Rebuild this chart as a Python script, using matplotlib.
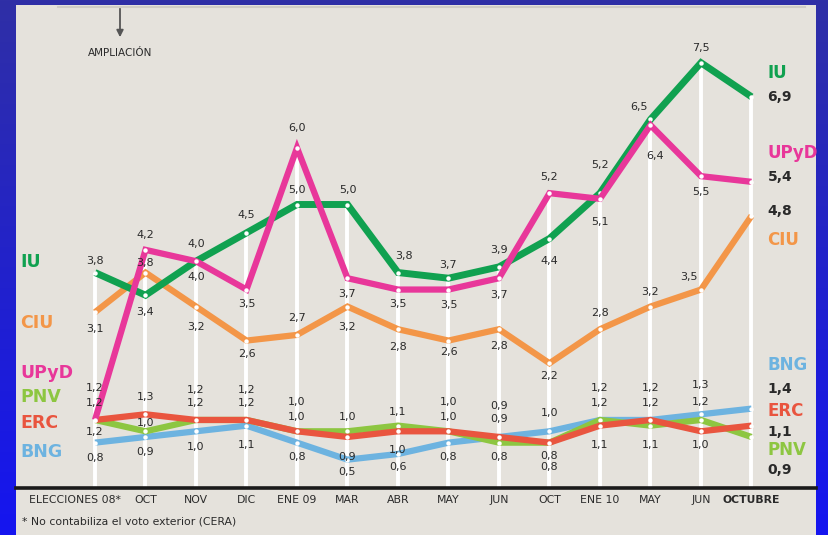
import numpy as np
import matplotlib
matplotlib.use("Agg")
import matplotlib.pyplot as plt
from matplotlib.patches import Rectangle, FancyArrowPatch
from matplotlib.lines import Line2D
from matplotlib.transforms import ScaledTranslation
from matplotlib.colors import LinearSegmentedColormap

# ---------------- data ----------------
categories = ["ELECCIONES 08*", "OCT", "NOV", "DIC", "ENE 09", "MAR", "ABR",
              "MAY", "JUN", "OCT", "ENE 10", "MAY", "JUN", "OCTUBRE"]
iu   = [3.8, 3.4, 4.0, 4.5, 5.0, 5.0, 3.8, 3.7, 3.9, 4.4, 5.2, 6.5, 7.5, 6.9]
upyd = [1.2, 4.2, 4.0, 3.5, 6.0, 3.7, 3.5, 3.5, 3.7, 5.2, 5.1, 6.4, 5.5, 5.4]
ciu  = [3.1, 3.8, 3.2, 2.6, 2.7, 3.2, 2.8, 2.6, 2.8, 2.2, 2.8, 3.2, 3.5, 4.8]
bng  = [0.8, 0.9, 1.0, 1.1, 0.8, 0.5, 0.6, 0.8, 0.9, 1.0, 1.2, 1.2, 1.3, 1.4]
erc  = [1.2, 1.3, 1.2, 1.2, 1.0, 0.9, 1.0, 1.0, 0.9, 0.8, 1.1, 1.2, 1.0, 1.1]
pnv  = [1.2, 1.0, 1.2, 1.2, 1.0, 1.0, 1.1, 1.0, 0.8, 0.8, 1.2, 1.1, 1.2, 0.9]

# label placement (pixels up from point; None = no label)
iu_dy   = [12, -17, 17, 18, 14, 14, 17, 13, 17, -22, 28, 12, 15, None]
upyd_dy = [32, 15, -16, -14, 20, -16, -14, -15, -17, 16, -23, -31, -16, None]
ciu_dy  = [-17, 10, -20, -13, 17, -20, -18, -11, -17, -13, 16, 15, 13, None]
bng_dy  = [-15, -15, -16, -19, -14, -12, -13, -14, 18, 18, 32, 17, 29, None]
erc_dy  = [-12, 17, 30, 30, 29, -20, -19, 29, 31, -13, -19, 32, -14, None]
pnv_dy  = [17, 8, 17, 17, 14, 14, 14, 14, -14, -24, 17, -19, 18, None]
iu_dx   = [0, 0, 0, 0, 0, 0, 6, 0, 0, 0, 0, -11, 0, 0]
upyd_dx = [0, 0, 0, 0, 0, 0, 0, 0, 0, 0, 0, 5, 0, 0]
ciu_dx  = [0, 0, 0, 0, 0, 0, 0, 0, 0, 0, 0, 0, -12, 0]
zero_dx = [0] * 14

C_IU, C_UPYD, C_CIU = "#10a150", "#e8379a", "#f39648"
C_BNG, C_ERC, C_PNV = "#6db3e0", "#e9553f", "#8dc641"
PANEL = "#e5e2dc"
TXT = "#2a2a2a"

series = [
    # name, values, color, lw, zorder, dy, dx, left_label_ypix, right name dy, right value dy
    ("BNG", bng, C_BNG, 4.5, 3, bng_dy, zero_dx, 452, 44, 20),
    ("PNV", pnv, C_PNV, 4.5, 4, pnv_dy, zero_dx, 397, -13, -33),
    ("ERC", erc, C_ERC, 4.5, 5, erc_dy, zero_dx, 423, 15, -6),
    ("CIU", ciu, C_CIU, 4.5, 6, ciu_dy, ciu_dx, 323, -24, 5),
    ("IU", iu, C_IU, 5.0, 7, iu_dy, iu_dx, 262, 24, 0),
    ("UPyD", upyd, C_UPYD, 4.5, 8, upyd_dy, upyd_dx, 373, 29, 5),
]

W, H = 829, 535
fig = plt.figure(figsize=(W / 100, H / 100), dpi=100)

# gradient blue background
bg = fig.add_axes([0, 0, 1, 1], zorder=-10)
grad = np.linspace(0, 1, 256).reshape(-1, 1)
cmap = LinearSegmentedColormap.from_list("bg", ["#2f2fa6", "#1515f0"])
bg.imshow(grad, aspect="auto", cmap=cmap, extent=[0, 1, 0, 1], origin="upper")
bg.set_axis_off()

# light panel
fig.patches.append(Rectangle((16 / W, 0), 800 / W, 530 / H, transform=fig.transFigure,
                             facecolor=PANEL, edgecolor="none", zorder=-5))
fig.lines.append(Line2D([58 / W, 805 / W], [1 - 7 / H, 1 - 7 / H], transform=fig.transFigure,
                        color="#cfccc6", lw=1.5, zorder=-4))

x0, dxp = 95.0, 50.5
ypu = 56.7
ax_left, ax_right = 16, 816
ax_bottom_pix, ax_top_pix = 488, 5
ax = fig.add_axes([ax_left / W, (H - ax_bottom_pix) / H, (ax_right - ax_left) / W,
                   (ax_bottom_pix - ax_top_pix) / H], zorder=0)
ax.set_facecolor("none")
ax.set_xlim((ax_left - x0) / dxp, (ax_right - x0) / dxp)
ax.set_ylim(0, (ax_bottom_pix - ax_top_pix) / ypu)
for s in ["top", "right", "left"]:
    ax.spines[s].set_visible(False)
ax.spines["bottom"].set_linewidth(2.6)
ax.spines["bottom"].set_color("#1a1a1a")
ax.set_yticks([])

x = np.arange(len(categories))
ax.set_xticks(x)
ax.set_xticklabels(categories, fontsize=7.8, color=TXT)
ax.tick_params(axis="x", length=0, pad=5)
for i, lab in enumerate(ax.get_xticklabels()):
    if i == len(categories) - 1:
        lab.set_fontweight("bold")
    if i == 0:
        lab.set_transform(lab.get_transform() + ScaledTranslation(-0.2, 0, fig.dpi_scale_trans))

# white vertical guide lines
allv = np.array([s[1] for s in series])
ax.vlines(x, 0, allv.max(axis=0), color="white", lw=2.8, zorder=1)

def fmt(v):
    return f"{v:.1f}".replace(".", ",")

for name, vals, col, lw, z, dy, dxl, lyp, rn, rv in series:
    ax.plot(x, vals, color=col, lw=lw, zorder=z, solid_joinstyle="miter",
            solid_capstyle="butt", marker="o", markersize=3.2,
            markerfacecolor="white", markeredgecolor="white", markeredgewidth=0)
    for i, v in enumerate(vals):
        if dy[i] is None:
            continue
        ax.annotate(fmt(v), (x[i], v), xytext=(dxl[i], dy[i]), textcoords="offset pixels",
                    ha="center", va="center", fontsize=8, color=TXT, zorder=20)
    # left name
    fig.text(20 / W, 1 - lyp / H, name, color=col, fontsize=12.5, fontweight="bold",
             ha="left", va="center")
    # right name and value
    ax.annotate(name, (x[-1], vals[-1]), xytext=(16, rn), textcoords="offset pixels",
                ha="left", va="center", fontsize=12, fontweight="bold", color=col, zorder=20)
    ax.annotate(fmt(vals[-1]), (x[-1], vals[-1]), xytext=(16, rv), textcoords="offset pixels",
                ha="left", va="center", fontsize=10, fontweight="bold", color=TXT, zorder=20)

# AMPLIACION arrow
fig.patches.append(FancyArrowPatch(
    (120 / W, 1 - 6 / H), (120 / W, 1 - 40 / H), transform=fig.transFigure,
    arrowstyle="-|>", mutation_scale=10, color="#555555", lw=1.3, zorder=5))
fig.text(120 / W, 1 - 53 / H, "AMPLIACIÓN", fontsize=7.5, color=TXT, ha="center", va="center")

# footnote
fig.text(22 / W, 1 - 522 / H, "* No contabiliza el voto exterior (CERA)", fontsize=7.8,
         color=TXT, ha="left", va="center")

fig.savefig("out.png", dpi=100)
